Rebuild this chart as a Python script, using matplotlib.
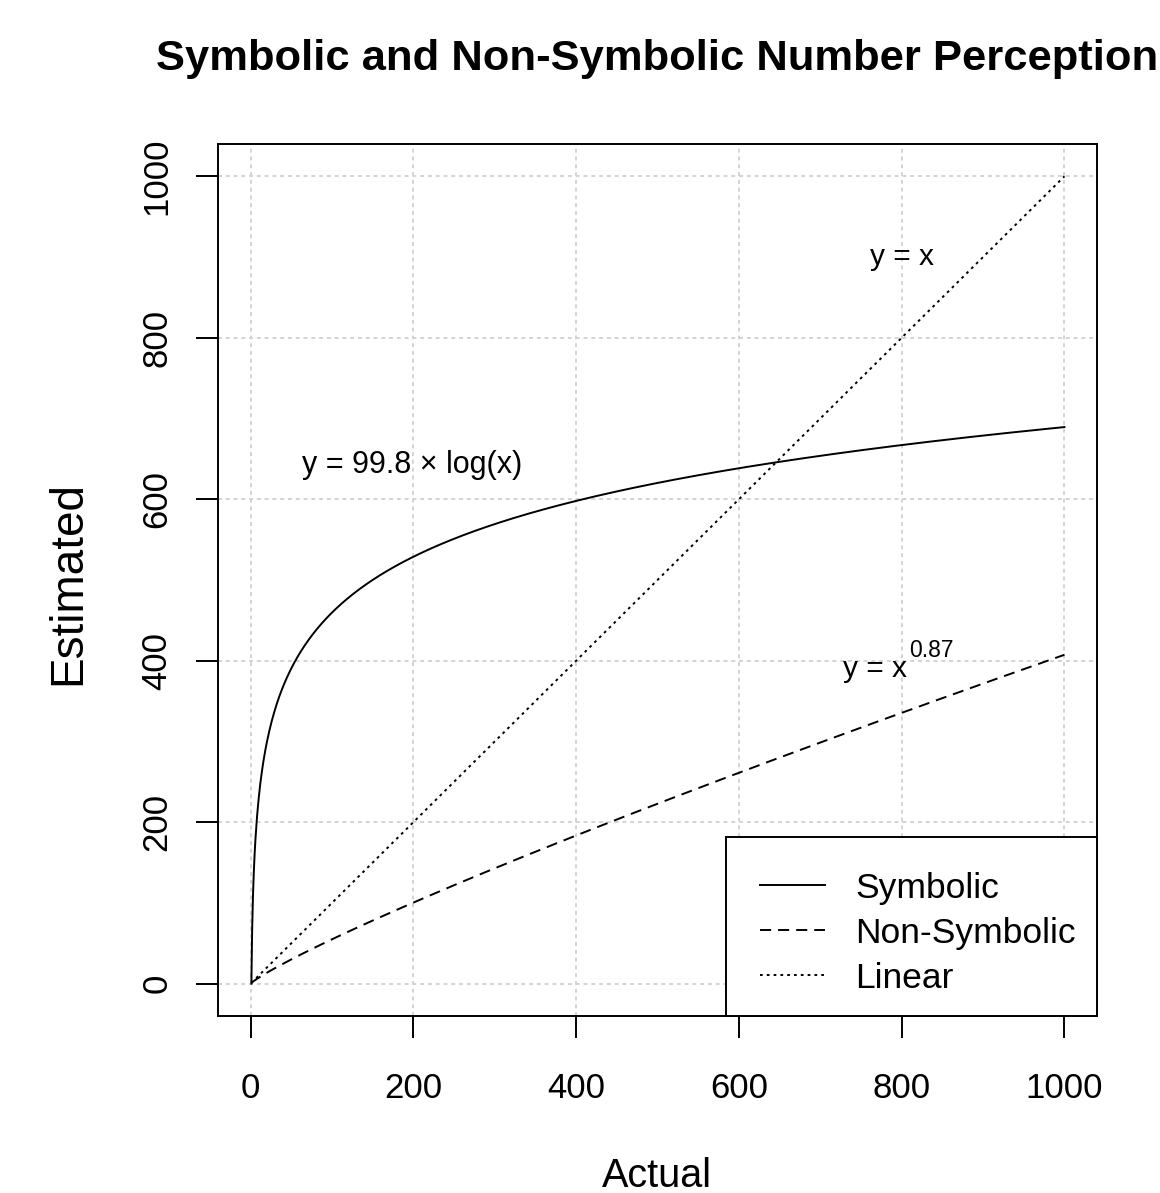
import numpy as np
import matplotlib
matplotlib.use('Agg')
import matplotlib.pyplot as plt
from matplotlib.legend_handler import HandlerLine2D

plt.rcParams['font.family'] = ['Liberation Sans', 'DejaVu Sans']

# curve parameters
log_coef = 99.8
power_exp = 0.87
actual = np.arange(1, 1001)

series_names = ['Symbolic', 'Non-Symbolic', 'Linear']
ticks = [0, 200, 400, 600, 800, 1000]

symbolic = log_coef * np.log(actual)
non_symbolic = actual ** power_exp
linear = actual.astype(float)


class InsetLine(HandlerLine2D):
    # legend line starts a bit inside its handle box, like R's legend
    def get_xdata(self, legend, xdescent, ydescent, width, height, fontsize):
        x = [-xdescent + 9.5, -xdescent + width]
        return x, x


fig = plt.figure(figsize=(11.6, 11.93), dpi=100)
ax = fig.add_axes([218/1160, 1 - 1016/1193, (1097-218)/1160, (1016-144)/1193])

lw = 1.4
ax.plot(actual, symbolic, color='black', lw=lw, label=series_names[0])
ax.plot(actual, non_symbolic, color='black', lw=lw, dashes=(5.7, 3.6), label=series_names[1])
ax.plot(actual, linear, color='black', lw=lw, dashes=(1.4, 2.1), label=series_names[2])

ax.set_xlim(-40, 1040)
ax.set_ylim(-40, 1040)
ax.set_xticks(ticks)
ax.set_yticks(ticks)
ax.grid(True, color='#d3d3d3', lw=1.4, ls=(0, (2, 2)))
ax.set_axisbelow(True)

for s in ax.spines.values():
    s.set_linewidth(lw)
ax.tick_params(axis='both', direction='out', length=16, width=lw, labelsize=25)
ax.tick_params(axis='x', pad=24)
ax.tick_params(axis='y', pad=16)
plt.setp(ax.get_yticklabels(), rotation=90, va='center')

# annotations
ax.text(198, 642, 'y = 99.8 × log(x)', fontsize=22, ha='center', va='center')
ax.text(800, 900, 'y = x', fontsize=21.5, ha='center', va='center')
ax.text(807, 390, 'y = x', fontsize=21.5, ha='right', va='center')
ax.annotate('0.87', xy=(807, 390), xytext=(1, 13), textcoords='offset points',
            fontsize=16.5, ha='left', va='center')

leg = ax.legend(loc='lower right', borderaxespad=0, fancybox=False, fontsize=25.5,
                handlelength=2.2, handletextpad=0.85, borderpad=0.6,
                labelspacing=0.34, framealpha=1, edgecolor='black',
                title=' ', title_fontsize=1.5,
                handler_map={plt.Line2D: InsetLine()})
leg.get_frame().set_linewidth(lw)

fig.text(657/1160, 1 - 70/1193, 'Symbolic and Non-Symbolic Number Perception',
         fontsize=31.3, fontweight='bold', ha='center', va='baseline')
fig.text(657/1160, 1 - 1187/1193, 'Actual', fontsize=28.5, ha='center', va='baseline')
fig.text(80/1160, 1 - 583/1193, 'Estimated', fontsize=33, rotation=90,
         rotation_mode='anchor', ha='center', va='baseline')

fig.savefig('out.png', dpi=100)
